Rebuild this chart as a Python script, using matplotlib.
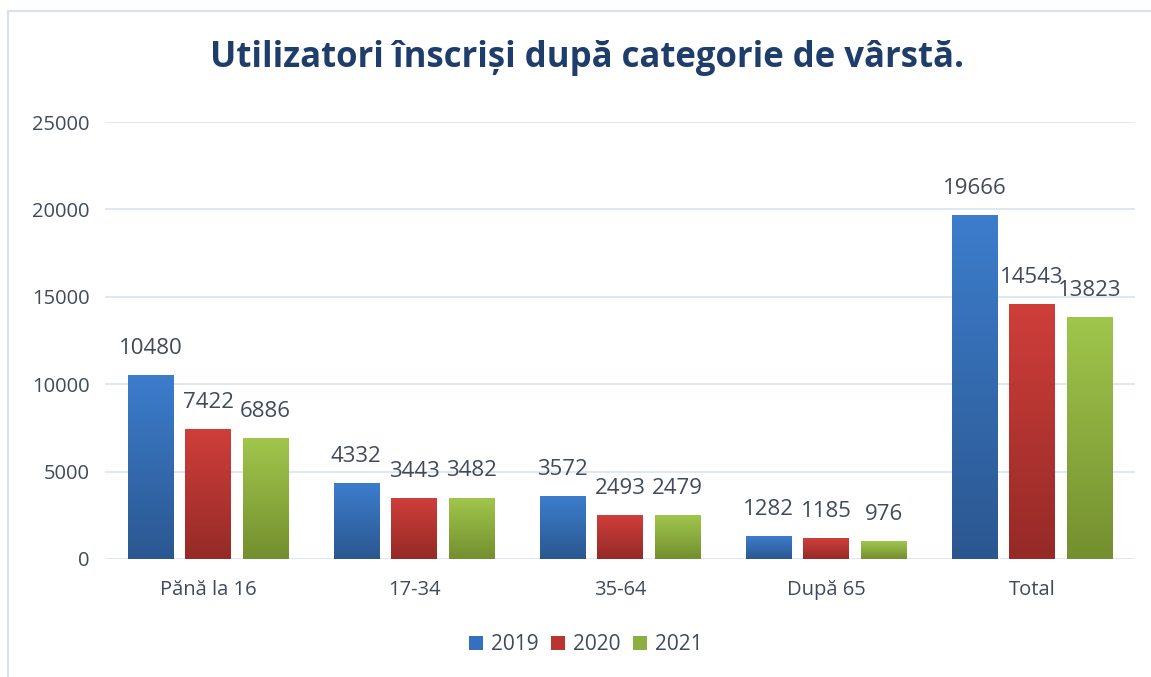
import matplotlib.pyplot as plt
import numpy as np
from matplotlib.colors import LinearSegmentedColormap
from matplotlib.patches import Rectangle

categories = ["Pănă la 16", "17-34", "35-64", "După 65", "Total"]
years = ["2019", "2020", "2021"]
v2019 = [10480, 4332, 3572, 1282, 19666]
v2020 = [7422, 3443, 2493, 1185, 14543]
v2021 = [6886, 3482, 2479, 976, 13823]
yticks = [0, 5000, 10000, 15000, 20000, 25000]

# (top colour, bottom colour) for each series
grads = [("#3c7dcc", "#2b5790"), ("#cf3e3a", "#952a27"), ("#a0c64c", "#748f2f")]
base = ["#3470bb", "#b93532", "#8cb03f"]

plt.rcParams["font.family"] = ["Open Sans", "DejaVu Sans"]
txt = "#404a5c"

W, H = 1151, 677
fig = plt.figure(figsize=(W / 100, H / 100), dpi=100)
fig.patch.set_facecolor("white")

# chart border
fig.patches.append(Rectangle((8 / W, -0.1), 1.2, 1 - 11 / H + 0.1, transform=fig.transFigure,
                             fill=False, edgecolor="#d6e2f2", linewidth=1.5))

ax = fig.add_axes([105 / W, 1 - 559 / H, (1135 - 105) / W, (559 - 122) / H])

x = np.arange(len(categories))
width = 0.22
step = 0.28
series = [v2019, v2020, v2021]
for i, vals in enumerate(series):
    bars = ax.bar(x + (i - 1) * step, vals, width, color=base[i], label=years[i], zorder=2,
                  edgecolor="none")
    cmap = LinearSegmentedColormap.from_list("g", [grads[i][1], grads[i][0]])
    grad = np.linspace(0, 1, 256).reshape(-1, 1)
    for b in bars:
        ax.imshow(grad, cmap=cmap, origin="lower", aspect="auto", zorder=3,
                  extent=[b.get_x(), b.get_x() + b.get_width(), 0, b.get_height()])
    ax.bar_label(bars, padding=12, fontsize=16, color=txt, zorder=4)

ax.set_xlim(-0.5, len(categories) - 0.5)
ax.set_ylim(0, 25000)
ax.set_yticks(yticks)
ax.set_yticklabels([str(t) for t in yticks])
ax.set_xticks(x)
ax.set_xticklabels(categories)
ax.tick_params(axis="y", length=0, pad=11, labelsize=14.5, labelcolor=txt)
ax.tick_params(axis="x", length=0, pad=15, labelsize=14.5, labelcolor=txt)
ax.grid(axis="y", color="#d9e3f3", linewidth=1.2, zorder=0)
for s in ax.spines.values():
    s.set_visible(False)

fig.text(587 / W, 1 - 58 / H, "Utilizatori înscriși după categorie de vârstă.", ha="center",
         va="center", fontsize=25, fontweight="bold", color="#1f3d6b")

fig.legend(loc="center", bbox_to_anchor=(586 / W, 1 - 645 / H), ncol=3, frameon=False,
           fontsize=15, handlelength=0.65, handleheight=0.65, handletextpad=0.4,
           columnspacing=0.6, labelcolor=txt)

fig.savefig("out.png", dpi=100)
